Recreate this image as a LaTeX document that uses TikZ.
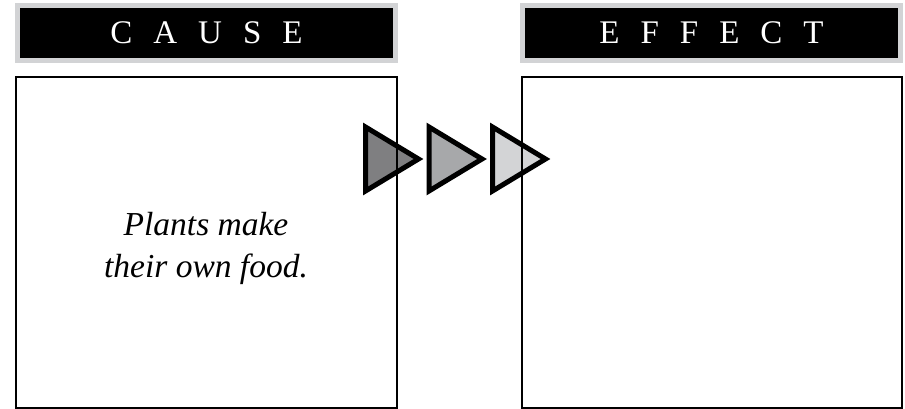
\documentclass[tikz,border=0pt]{standalone}
\usepackage{fontspec}
\setmainfont{Liberation Serif}
\definecolor{hdrborder}{HTML}{D2D3D5}
\definecolor{tridark}{HTML}{7F7F81}
\definecolor{trimid}{HTML}{A7A8AA}
\definecolor{trilight}{HTML}{D3D4D6}
\tikzset{
  header/.style={fill=black, draw=hdrborder, line width=5pt, minimum width=378pt, minimum height=55pt,
    inner sep=0pt, outer sep=0pt, text=white, font=\fontsize{33}{36}\selectfont},
  panel/.style={draw=black, line width=2pt, inner sep=0pt, outer sep=0pt},
  tri/.style={draw=black, line width=5pt, line join=miter, miter limit=10},
  bodytext/.style={align=center, font=\fontsize{33.5}{42}\selectfont\itshape}
}
\newcommand{\lsp}{\hspace{21pt}}
\begin{document}
\begin{tikzpicture}[x=1pt,y=-1pt]
\useasboundingbox (0,0) rectangle (905,409);
\fill[white] (0,0) rectangle (905,409);
% arrows
\draw[tri, fill=tridark] (365.5,127) -- (365.5,191) -- (418.5,159) -- cycle;
\draw[tri, fill=trimid] (429,127) -- (429,191) -- (482,159) -- cycle;
\draw[tri, fill=trilight] (492.5,127) -- (492.5,191) -- (545.5,159) -- cycle;
% headers
\node[header] (causehdr) at (206.5,33) {\raisebox{-3pt}{C\lsp A\lsp U\lsp S\lsp E}};
\node[header] (effecthdr) at (711.5,33) {\raisebox{-3pt}{E\lsp F\lsp F\lsp E\lsp C\lsp T}};
% panels
\node[panel, minimum width=381pt, minimum height=331pt] (causebox) at (206.5,242.5) {};
\node[panel, minimum width=380pt, minimum height=331pt] (effectbox) at (712,242.5) {};
\node[bodytext] (causetext) at (206,248) {Plants make\\their own food.};
\end{tikzpicture}
\end{document}
